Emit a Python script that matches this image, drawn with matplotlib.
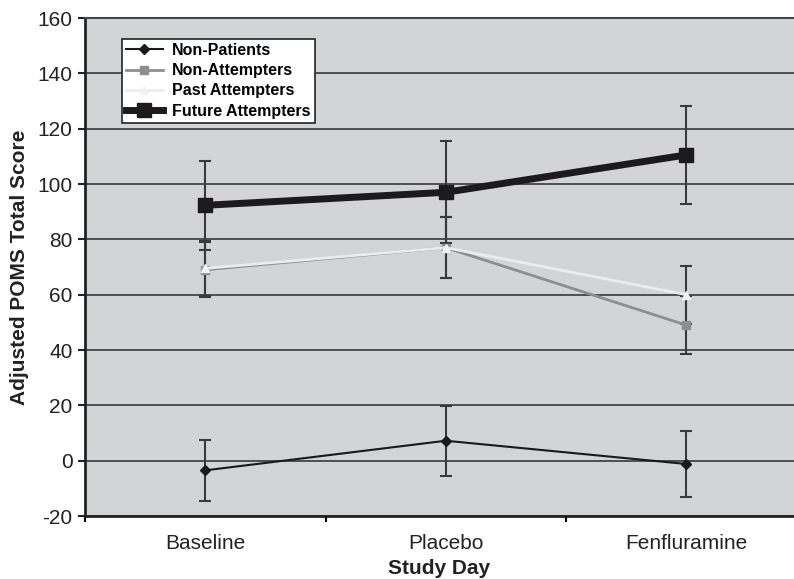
import matplotlib
matplotlib.use("Agg")
import matplotlib.pyplot as plt
import numpy as np

plt.rcParams['font.family'] = ['Liberation Sans', 'DejaVu Sans']

days = ["Baseline", "Placebo", "Fenfluramine"]
series_names = ["Non-Patients", "Non-Attempters", "Past Attempters", "Future Attempters"]
non_patients = [-3.5, 7.2, -1.2]
non_patients_err = [11.0, 12.6, 12.1]
non_attempters = [69.0, 77.0, 49.0]
non_attempters_err = [10.0, 11.0, 10.5]
past_attempters = [69.5, 77.0, 60.0]
past_attempters_err = [10.0, 11.0, 10.5]
future_attempters = [92.3, 97.0, 110.5]
future_attempters_err = [16.0, 18.5, 17.8]
yticks = [-20, 0, 20, 40, 60, 80, 100, 120, 140, 160]

fig = plt.figure(figsize=(7.94, 5.79), dpi=100)
ax = fig.add_axes([85/794, 63/579, 709/794, 498/579])
ax.set_facecolor('#d3d4d6')

x = np.arange(len(days))
ecol = '#3a3a3a'
styles = [
    (non_patients, non_patients_err, dict(color='#1a1a1a', lw=1.5, marker='D', ms=5, mfc='#1a1a1a', mec='#1a1a1a')),
    (non_attempters, non_attempters_err, dict(color='#8e8e8e', lw=2.0, marker='s', ms=6, mfc='#8e8e8e', mec='#8e8e8e')),
    (past_attempters, past_attempters_err, dict(color='#ececec', lw=2.0, marker='^', ms=6, mfc='#f2f2f2', mec='#f2f2f2')),
    (future_attempters, future_attempters_err, dict(color='#1e1a1b', lw=5.0, marker='s', ms=10, mfc='#1e1a1b', mec='#1e1a1b')),
]
handles = []
for (vals, errs, st), name in zip(styles, series_names):
    ax.errorbar(x, vals, yerr=errs, fmt='none', ecolor=ecol, elinewidth=1.5,
                capsize=4, capthick=1.5, zorder=3)
for (vals, errs, st), name in zip(styles, series_names):
    h, = ax.plot(x, vals, label=name, zorder=4, **st)
    handles.append(h)

ax.set_xlim(-0.5, 2.448)
ax.set_ylim(-20, 160)
ax.set_yticks(yticks)
ax.set_yticklabels([str(v) for v in yticks], fontsize=15)
ax.yaxis.grid(True, color='#444444', lw=1.3)
ax.set_axisbelow(True)
ax.set_xticks(x)
ax.set_xticklabels(days, fontsize=15)
ax.set_xticks([-0.5, 0.5, 1.5], minor=True)
ax.tick_params(axis='x', which='major', length=0, pad=13, colors='#222222')
ax.tick_params(axis='x', which='minor', length=4, width=1.5, direction='out')
ax.tick_params(axis='y', length=5, width=1.5, direction='out', pad=4, colors='#222222')

for s in ['left', 'bottom']:
    ax.spines[s].set_color('#222222')
    ax.spines[s].set_linewidth(2)
ax.spines['top'].set_color('#444444')
ax.spines['top'].set_linewidth(1.5)
ax.spines['right'].set_visible(False)

ax.set_xlabel('Study Day', fontsize=15, fontweight='bold', color='#222222', labelpad=4)
ax.set_ylabel('Adjusted POMS Total Score', fontsize=15, fontweight='bold', color='#222222', labelpad=6)

leg = ax.legend(handles=handles, loc='upper left', bbox_to_anchor=(0.052, 0.958),
                borderaxespad=0, prop={'weight': 'bold', 'size': 11.5},
                frameon=True, fancybox=False, edgecolor='#222222', facecolor='white',
                framealpha=1, handlelength=2.3, handletextpad=0.6, borderpad=0.25,
                labelspacing=0.33)
leg.get_frame().set_linewidth(1.2)

fig.savefig('out.png', dpi=100, facecolor='white')
